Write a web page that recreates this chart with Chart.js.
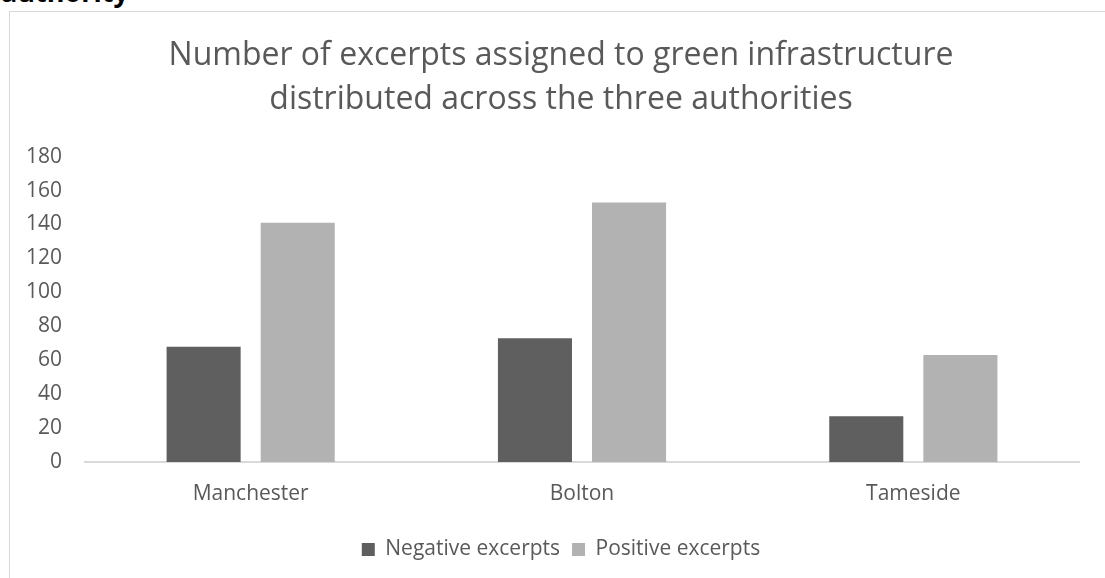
<!DOCTYPE html>
<html>
<head>
<meta charset="utf-8">
<title>Green infrastructure excerpts</title>
<script src="https://cdn.jsdelivr.net/npm/chart.js@4"></script>
<style>
  html, body {
    margin: 0;
    padding: 0;
    background: #ffffff;
    overflow: hidden;
    width: 1105px;
    height: 578px;
  }
  /* caption text of the section above, mostly scrolled off */
  #heading {
    position: absolute;
    left: 1px;
    top: -22px;
    font: bold 27px "Open Sans", sans-serif;
    line-height: 27px;
    color: #000000;
  }
  #frame {
    position: absolute;
    left: 9px;
    top: 11px;
    width: 1102px;
    height: 600px;
    border-left: 1px solid #d9d9d9;
    border-top: 1px solid #d9d9d9;
  }
  #box {
    position: relative;
    width: 1102px;
    height: 566px;
  }
</style>
</head>
<body>
<div id="heading">authority</div>
<div id="frame">
  <div id="box"><canvas id="canvas"></canvas></div>
</div>
<script>
// authorities along the x axis:
let authorities = ['Manchester', 'Bolton', 'Tameside'];
// excerpt counts per authority:
let negativeExcerpts = [68, 73, 27];
let positiveExcerpts = [141, 153, 63];
// y axis range and step:
let yMin = 0;
let yMax = 180;
let yStep = 20;

let titleLines = [
  'Number of excerpts assigned to green infrastructure',
  'distributed across the three authorities'
];

let textColor = '#595959';
let fontFamily = '"Open Sans", sans-serif';

const data = {
  labels: authorities,
  datasets: [{
    label: 'Negative excerpts',
    data: negativeExcerpts,
    backgroundColor: '#5f5f5f',
    yAxisID: 'y'
  }, {
    label: 'Positive excerpts',
    data: positiveExcerpts,
    backgroundColor: '#b2b2b2',
    yAxisID: 'y'
  }]
};

const config = {
  type: 'bar',
  data: data,
  options: {
    responsive: true,
    maintainAspectRatio: false,
    animation: false,
    layout: {
      padding: { left: 0, right: 0, top: 0, bottom: 8 }
    },
    // bar widths inside each category:
    datasets: {
      bar: {
        categoryPercentage: 0.568,
        barPercentage: 0.787
      }
    },
    plugins: {
      title: {
        display: true,
        text: titleLines,
        color: textColor,
        font: { family: fontFamily, size: 32, weight: 'normal', lineHeight: 1.4 },
        padding: { top: 21, bottom: 34 }
      },
      legend: {
        position: 'bottom',
        labels: {
          color: textColor,
          font: { family: fontFamily, size: 21 },
          boxWidth: 13,
          boxHeight: 13,
          padding: 12
        }
      },
      tooltip: { enabled: false }
    },
    scales: {
      x: {
        grid: { display: false, drawTicks: false },
        border: { display: true, color: '#d9d9d9', width: 2 },
        ticks: {
          color: textColor,
          font: { family: fontFamily, size: 21, lineHeight: 1.0 },
          padding: 22
        }
      },
      y: {
        min: yMin,
        max: yMax,
        grid: { display: false, drawTicks: false },
        border: { display: false },
        ticks: {
          stepSize: yStep,
          color: textColor,
          font: { family: fontFamily, size: 21 },
          padding: 23
        },
        afterFit: function (scale) {
          scale.width = 75;
        }
      },
      // empty strip on the right so the plot ends short of the frame edge
      // while the title and legend stay centred on the whole frame
      yRight: {
        position: 'right',
        grid: { display: false, drawTicks: false },
        border: { display: false },
        ticks: { display: false },
        afterFit: function (scale) {
          scale.width = 33;
        }
      }
    }
  }
};

function setup() {
  let ctx = document.getElementById('canvas').getContext('2d');
  new Chart(ctx, config);
}

document.addEventListener('DOMContentLoaded', setup);
</script>
</body>
</html>
